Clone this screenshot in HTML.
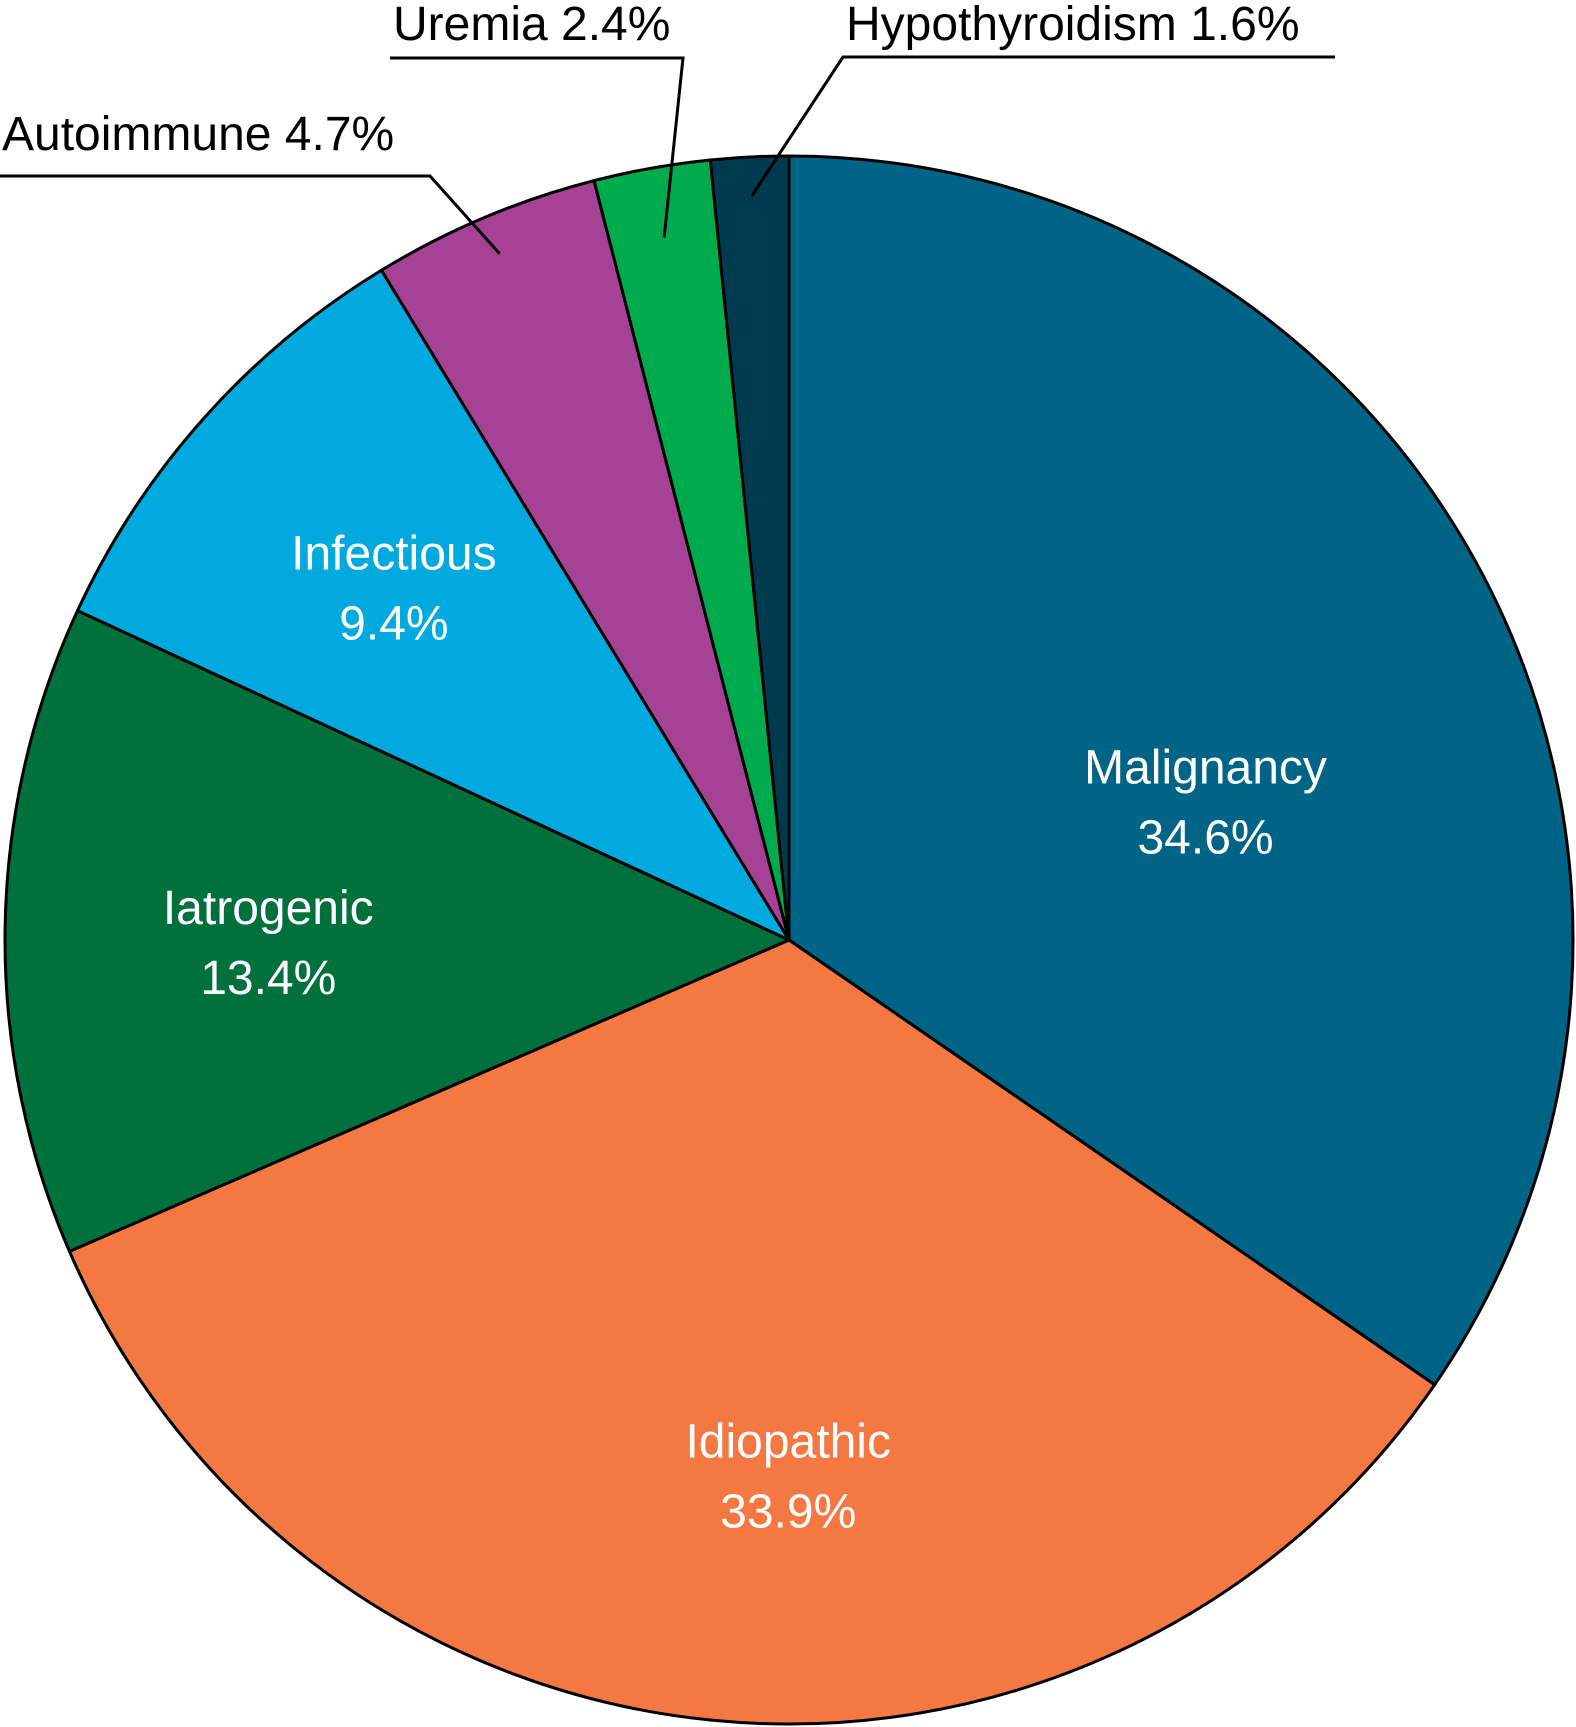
<!DOCTYPE html>
<html><head><meta charset="utf-8"><style>
html,body{margin:0;padding:0;background:#fff}
svg{display:block}
text{font-family:"Liberation Sans",sans-serif;font-size:48px}
</style></head><body>
<svg id="chart" width="1576" height="1727" viewBox="0 0 1576 1727">
<g id="slices"></g>
<g id="labels"></g>
</svg>
<script>
const categories=["Malignancy","Idiopathic","Iatrogenic","Infectious","Autoimmune","Uremia","Hypothyroidism"];
const values=[34.6,33.9,13.4,9.4,4.7,2.4,1.6];
const valueLabels=["34.6%","33.9%","13.4%","9.4%","4.7%","2.4%","1.6%"];
const colors=["#006487","#f47842","#00703c","#00a9de","#a64295","#00ab4e","#003a4f"];
const cx=789,cy=940,r=784;
const NS="http://www.w3.org/2000/svg";
const total=values.reduce((a,b)=>a+b,0);
function pt(frac,rad){const a=frac*2*Math.PI;return [cx+rad*Math.sin(a),cy-rad*Math.cos(a)];}
const sg=document.getElementById('slices'),lg=document.getElementById('labels');
let acc=0;
const inside={0:[0.58,14,73],1:[0.64,48,36],2:[0.7,28,9],3:[0.65,-15,-13]};
const outside={4:{ty:150,tx:2,lx1:0,lx2:430,ly:176,f:0.95},5:{ty:40,tx:393,lx1:390,lx2:683,ly:58,f:0.91},6:{ty:40,tx:846,lx1:843,lx2:1335,ly:57,f:0.95}};
values.forEach((v,i)=>{
  const s=acc/total,e=(acc+v)/total;acc+=v;
  const p0=pt(s,r),p1=pt(e,r);
  const large=(e-s)>0.5?1:0;
  const path=document.createElementNS(NS,'path');
  path.setAttribute('d',`M${cx},${cy}L${p0[0]},${p0[1]}A${r},${r} 0 ${large} 1 ${p1[0]},${p1[1]}Z`);
  path.setAttribute('fill',colors[i]);path.setAttribute('stroke','#000');path.setAttribute('stroke-width','3');
  path.setAttribute('stroke-linejoin','round');
  
  
  sg.appendChild(path);
  const mid=(s+e)/2;
  if(inside[i]){
    const c=pt(mid,r*inside[i][0]);
    [categories[i],valueLabels[i]].forEach((t,k)=>{
      const tx=document.createElementNS(NS,'text');
      tx.setAttribute('x',c[0]+inside[i][1]);tx.setAttribute('y',c[1]-18+k*70+inside[i][2]);
      tx.setAttribute('text-anchor','middle');tx.setAttribute('fill','#fff');
      tx.textContent=t;
      
      
      lg.appendChild(tx);
    });
  }else{
    const o=outside[i];
    const tgt=pt(mid,r*o.f);
    const tx=document.createElementNS(NS,'text');
    tx.setAttribute('x',o.tx);tx.setAttribute('y',o.ty);tx.setAttribute('fill','#000');
    tx.textContent=categories[i]+' '+valueLabels[i];
    
    
    lg.appendChild(tx);
    const pl=document.createElementNS(NS,'polyline');
    const jx=(i===6)?o.lx1:o.lx2;
    pl.setAttribute('points',`${(i===6)?o.lx2:o.lx1},${o.ly} ${jx},${o.ly} ${tgt[0]},${tgt[1]}`);
    pl.setAttribute('fill','none');pl.setAttribute('stroke','#000');pl.setAttribute('stroke-width','3');
    
    
    lg.appendChild(pl);
  }
});
</script>
</body></html>
